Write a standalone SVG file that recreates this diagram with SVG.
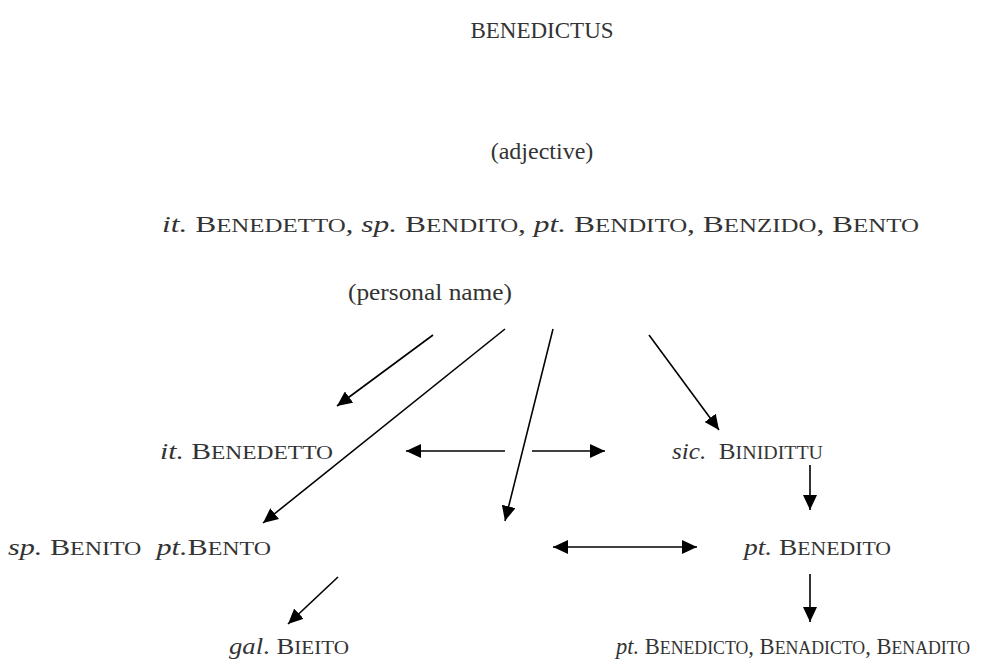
<svg xmlns="http://www.w3.org/2000/svg" width="984" height="670" viewBox="0 0 984 670">
<defs>
<style>
text{font-family:"Liberation Serif","Times New Roman",serif;font-size:24px;fill:#333}
.i{font-style:italic}
.s{font-size:19px}
.sm{font-size:22.5px}
.sm .s{font-size:17.8px}
.a{stroke:#000;stroke-width:1.6;fill:none;marker-end:url(#h)}
.d{stroke:#000;stroke-width:1.6;fill:none;marker-end:url(#h);marker-start:url(#h)}
</style>
<marker id="h" markerUnits="userSpaceOnUse" markerWidth="16" markerHeight="14" refX="15" refY="7" orient="auto-start-reverse">
<path d="M0,0 L15,7 L0,14 z" fill="#000"/>
</marker>
</defs>
<rect width="984" height="670" fill="#fff"/>
<g id="benedictus"><text x="542" y="38" text-anchor="middle" style="font-size:23px">BENEDICTUS</text></g>
<g id="adjective"><text x="542" y="159" text-anchor="middle">(adjective)</text></g>
<g id="forms"><text x="162" y="232" textLength="757" lengthAdjust="spacingAndGlyphs"><tspan class="i">it.</tspan> B<tspan class="s">ENEDETTO</tspan><tspan class="i">,</tspan> <tspan class="i">sp.</tspan> B<tspan class="s">ENDITO</tspan>, <tspan class="i">pt.</tspan> B<tspan class="s">ENDITO</tspan>, B<tspan class="s">ENZIDO</tspan>, B<tspan class="s">ENTO</tspan></text></g>
<g id="personal"><text x="348" y="300" textLength="164" lengthAdjust="spacingAndGlyphs">(personal name)</text></g>
<g id="it"><text x="160" y="459" textLength="173" lengthAdjust="spacingAndGlyphs"><tspan class="i">it.</tspan> B<tspan class="s">ENEDETTO</tspan></text></g>
<g id="sic"><text x="672" y="459" xml:space="preserve" textLength="151" lengthAdjust="spacingAndGlyphs"><tspan class="i">sic.</tspan>  B<tspan class="s">INIDITTU</tspan></text></g>
<g id="sp"><text x="8" y="555" xml:space="preserve" textLength="263" lengthAdjust="spacingAndGlyphs"><tspan class="i">sp.</tspan> B<tspan class="s">ENITO</tspan>  <tspan class="i">pt.</tspan>B<tspan class="s">ENTO</tspan></text></g>
<g id="pt1"><text x="744" y="555" textLength="147" lengthAdjust="spacingAndGlyphs"><tspan class="i">pt.</tspan> B<tspan class="s">ENEDITO</tspan></text></g>
<g id="gal"><text x="229" y="654" textLength="120" lengthAdjust="spacingAndGlyphs"><tspan class="i">gal</tspan>. B<tspan class="s">IEITO</tspan></text></g>
<g id="pt2"><text class="sm" x="616" y="654"><tspan class="i">pt.</tspan> B<tspan class="s">ENEDICTO</tspan>, B<tspan class="s">ENADICTO</tspan>, B<tspan class="s">ENADITO</tspan></text></g>
<g id="connectors">
<line class="a" x1="433" y1="335" x2="337" y2="406"/>
<line class="a" x1="505" y1="329" x2="263" y2="523"/>
<line class="a" x1="553" y1="329" x2="505" y2="521"/>
<line class="a" x1="649" y1="335" x2="719" y2="430"/>
<line class="a" x1="505" y1="451" x2="406" y2="451"/>
<line class="a" x1="532" y1="451" x2="605" y2="451"/>
<line class="d" x1="553" y1="547" x2="697" y2="547"/>
<line class="a" x1="810" y1="465" x2="810" y2="510"/>
<line class="a" x1="810" y1="574" x2="810" y2="622"/>
<line class="a" x1="338" y1="577" x2="288" y2="624"/>
</g>
</svg>
